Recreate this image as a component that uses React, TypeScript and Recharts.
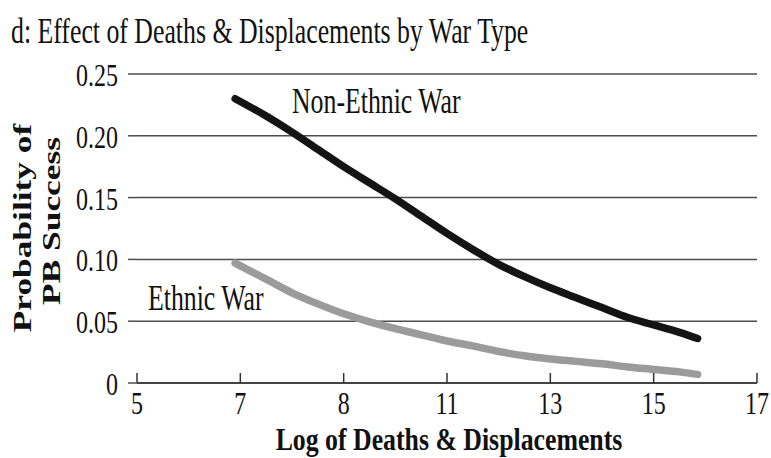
import { LineChart, Line, XAxis, YAxis, CartesianGrid } from "recharts";

// x positions along the curves (log of deaths & displacements)
const xs = [6.9, 7.5, 8, 8.5, 9, 9.5, 10, 10.5, 11, 11.5, 12, 12.5, 13, 13.5, 14, 14.5, 15, 15.5, 15.85];
const nonEthnic = [0.23, 0.216, 0.203, 0.189, 0.175, 0.162, 0.149, 0.135, 0.121, 0.108, 0.096, 0.086, 0.077, 0.069, 0.061, 0.053, 0.047, 0.041, 0.036];
const ethnic = [0.097, 0.084, 0.073, 0.064, 0.056, 0.0495, 0.044, 0.039, 0.034, 0.03, 0.0255, 0.022, 0.0195, 0.0175, 0.0155, 0.013, 0.011, 0.009, 0.007];

const xTicks = [5, 7, 9, 11, 13, 15, 17];
const xTickLabels = ["5", "7", "8", "11", "13", "15", "17"];
const yTicks = [0, 0.05, 0.1, 0.15, 0.2, 0.25];
const yTickLabels = ["0", "0.05", "0.10", "0.15", "0.20", "0.25"];

const data = xs.map((x, i) => ({ x, nonEthnic: nonEthnic[i], ethnic: ethnic[i] }));

const SERIF = '"Liberation Serif", "Times New Roman", serif';
const SY = 1.35; // the original art is stretched vertically
const INK = "#111";
const GRID = "#4d4d4d";

function XTick(props: any) {
  const { x, y, payload } = props;
  const i = xTicks.indexOf(payload.value);
  return (
    <text transform={`translate(${x},${y}) scale(1,${SY})`} textAnchor="middle" fontFamily={SERIF} fontSize={24} fill={INK}>
      {xTickLabels[i]}
    </text>
  );
}

function YTick(props: any) {
  const { x, y, payload } = props;
  const i = yTicks.indexOf(payload.value);
  return (
    <text transform={`translate(${x},${y + 12}) scale(1,${SY})`} textAnchor="end" fontFamily={SERIF} fontSize={24} fill={INK}>
      {yTickLabels[i]}
    </text>
  );
}

function Txt({ x, y, children, anchor = "start", bold = false, size = 25.8, sy = SY }: any) {
  return (
    <text
      transform={`translate(${x},${y}) scale(1,${sy})`}
      textAnchor={anchor}
      fontFamily={SERIF}
      fontSize={size}
      fontWeight={bold ? "bold" : "normal"}
      fill={INK}
    >
      {children}
    </text>
  );
}

export default function App() {
  return (
    <div style={{ position: "absolute", left: 0, top: 0, width: 771, height: 458, background: "#fff" }}>
      <LineChart width={771} height={458} data={data} margin={{ top: 74, right: 14, bottom: 0, left: 0 }}>
        <CartesianGrid vertical={false} stroke={GRID} strokeWidth={1.5} />
        <XAxis
          dataKey="x"
          type="number"
          domain={[5, 17]}
          ticks={xTicks}
          height={75}
          tickSize={-10}
          tickMargin={41}
          tick={<XTick />}
          axisLine={{ stroke: "#333", strokeWidth: 1.5 }}
          tickLine={{ stroke: "#333", strokeWidth: 1.5 }}
        />
        <YAxis
          type="number"
          domain={[0, 0.25]}
          ticks={yTicks}
          width={137}
          tickSize={9}
          tickMargin={10}
          tick={<YTick />}
          axisLine={false}
          tickLine={{ stroke: GRID, strokeWidth: 1.5 }}
        />
        <Line
          type="monotone"
          dataKey="nonEthnic"
          stroke="#141414"
          strokeWidth={7.5}
          strokeLinecap="round"
          dot={false}
          isAnimationActive={false}
        />
        <Line
          type="monotone"
          dataKey="ethnic"
          stroke="#9b9b9b"
          strokeWidth={7.5}
          strokeLinecap="round"
          dot={false}
          isAnimationActive={false}
        />
      </LineChart>
      <svg width={771} height={458} style={{ position: "absolute", left: 0, top: 0, pointerEvents: "none" }}>
        <Txt x={11} y={43}>d: Effect of Deaths &amp; Displacements by War Type</Txt>
        <Txt x={292} y={113}>Non-Ethnic War</Txt>
        <Txt x={148} y={310}>Ethnic War</Txt>
        <Txt x={449} y={450} anchor="middle" bold sy={1.2}>Log of Deaths &amp; Displacements</Txt>
        <text transform={`translate(31,228) rotate(-90) scale(1.36,1)`} textAnchor="middle" fontFamily={SERIF} fontSize={26} fontWeight="bold" fill={INK}>
          Probability of
        </text>
        <text transform={`translate(60,221) rotate(-90) scale(1.36,1)`} textAnchor="middle" fontFamily={SERIF} fontSize={26} fontWeight="bold" fill={INK}>
          PB Success
        </text>
      </svg>
    </div>
  );
}
